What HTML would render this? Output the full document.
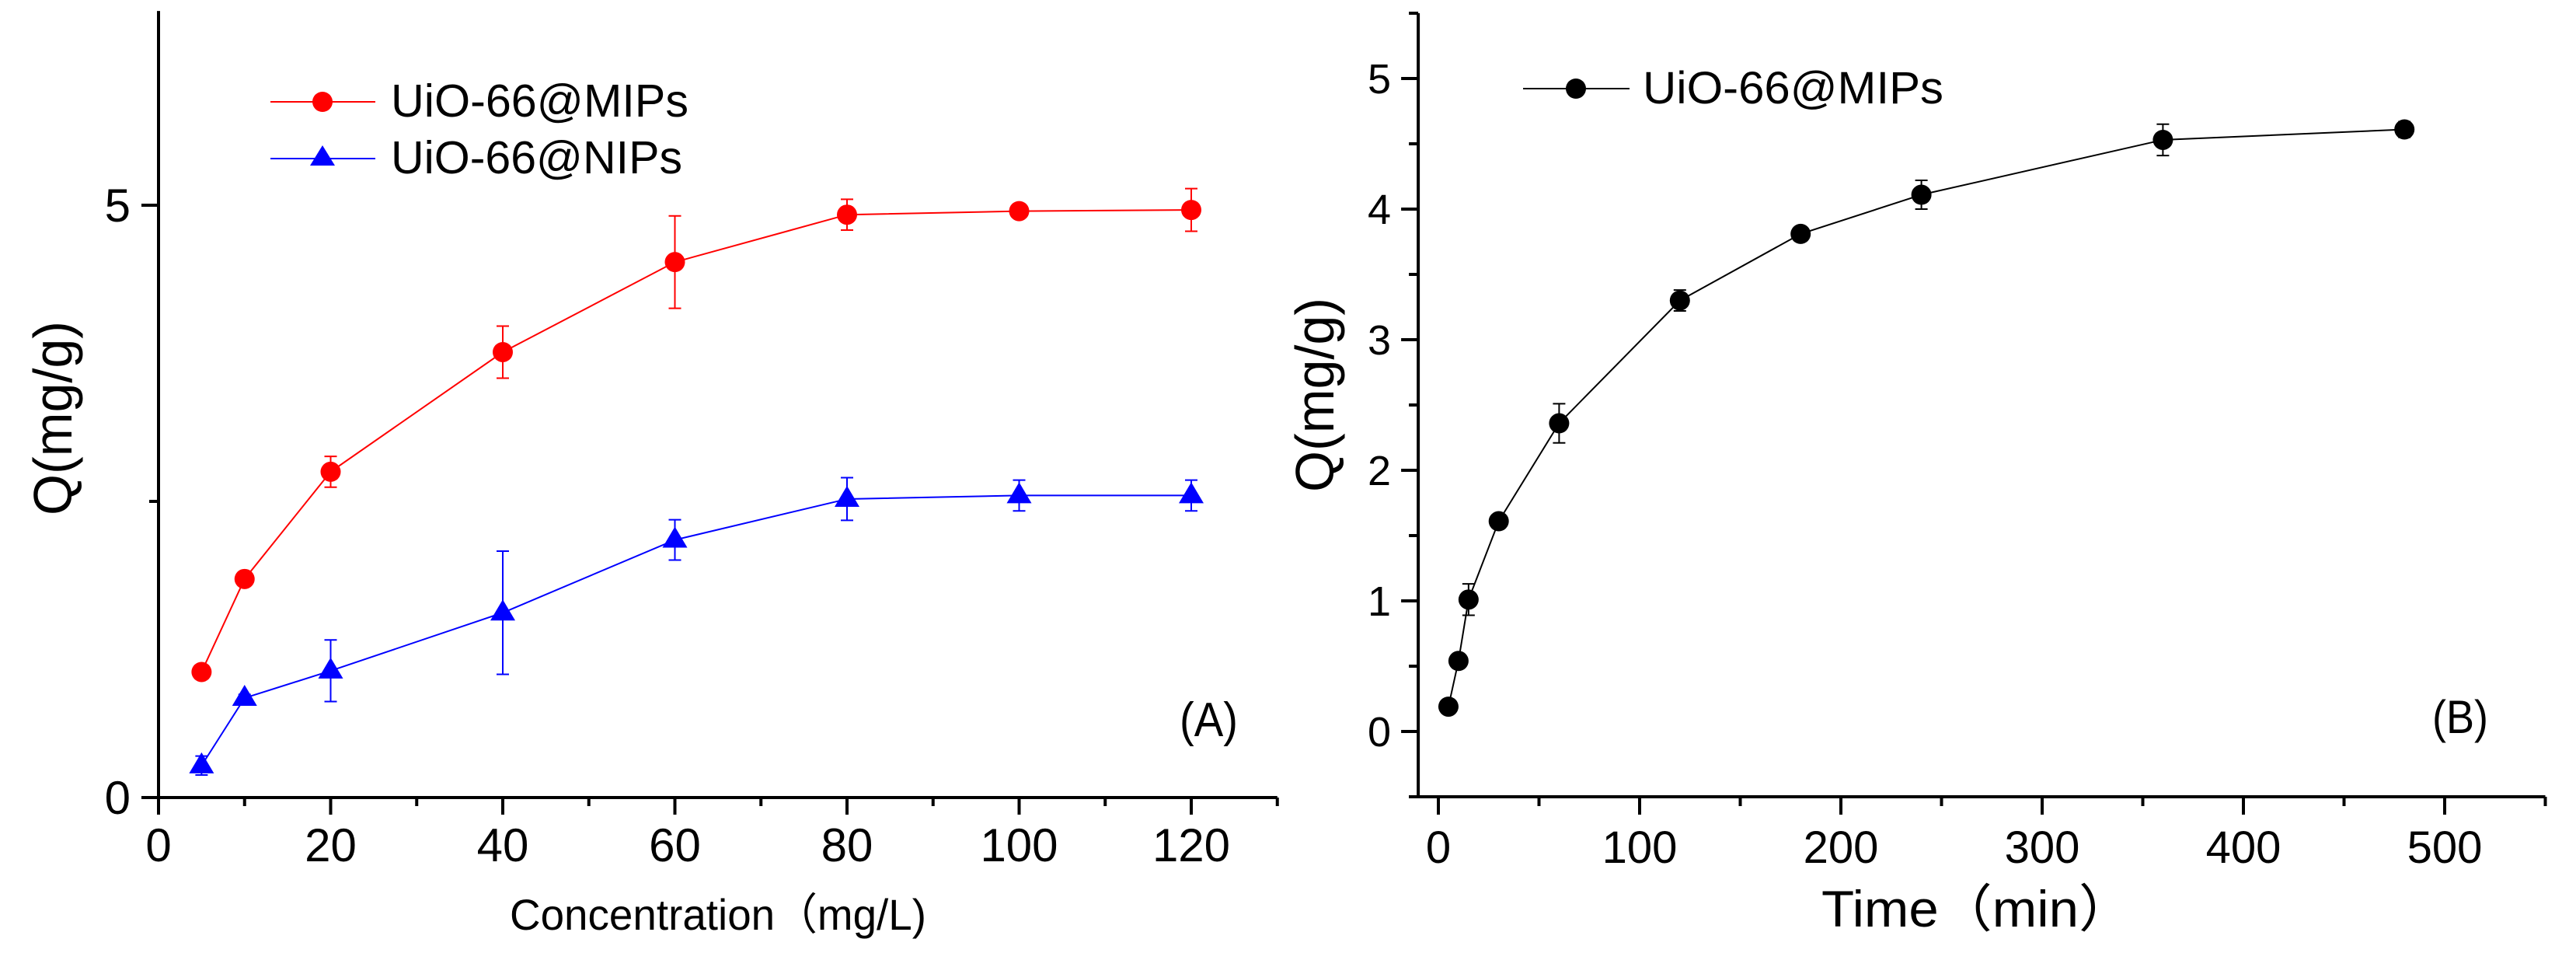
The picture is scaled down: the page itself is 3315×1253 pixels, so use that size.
<!DOCTYPE html>
<html><head><meta charset="utf-8"><style>
html,body{margin:0;padding:0;background:#fff;}
svg{display:block;font-family:"Liberation Sans","Noto Sans CJK SC",sans-serif;}
</style></head><body>
<svg id="fig" width="3315" height="1253" viewBox="0 0 3315 1253" xmlns="http://www.w3.org/2000/svg"></svg>
<script>
// Panel A data
const concX = [5, 10, 20, 40, 60, 80, 100, 120];
const mipQ = [1.06, 1.845, 2.75, 3.76, 4.52, 4.92, 4.95, 4.96];
const mipErr = [0.03, 0.03, 0.13, 0.22, 0.39, 0.13, 0.02, 0.18];
const nipQ = [0.27, 0.84, 1.07, 1.56, 2.175, 2.52, 2.55, 2.55];
const nipErr = [0.08, 0.03, 0.26, 0.52, 0.17, 0.18, 0.13, 0.13];
const aXTicks = [0, 20, 40, 60, 80, 100, 120];
const aYTicks = [0, 5];
// Panel B data
const timeX = [5, 10, 15, 30, 60, 120, 180, 240, 360, 480];
const timeQ = [0.19, 0.54, 1.01, 1.61, 2.36, 3.30, 3.81, 4.11, 4.53, 4.61];
const timeErr = [0.03, 0.03, 0.12, 0.03, 0.15, 0.08, 0.03, 0.11, 0.12, 0.06];
const bXTicks = [0, 100, 200, 300, 400, 500];
const bYTicks = [0, 1, 2, 3, 4, 5];

const NS = "http://www.w3.org/2000/svg";
const svg = document.getElementById('fig');
function mk(tag, attrs, parent) {
  const e = document.createElementNS(NS, tag);
  for (const k in attrs) e.setAttribute(k, attrs[k]);
  (parent || svg).appendChild(e);
  return e;
}
function txt(s, attrs, parent) { const t = mk('text', attrs, parent); t.textContent = s; return t; }

// ---------- Panel A ----------
const A = { x0: 204, xs: 221.5 / 20, y0: 1026, ys: 152.4, xmax: 130, ymax: 6.64 };
const ax = v => A.x0 + v * A.xs;
const ay = v => A.y0 - v * A.ys;
const gA = mk('g', {});


let l = mk('line', { x1: ax(0), y1: ay(A.ymax), x2: ax(0), y2: A.y0 + 22, stroke: '#000', 'stroke-width': 4 }, gA);
 
l = mk('line', { x1: 182, y1: A.y0, x2: ax(A.xmax), y2: A.y0, stroke: '#000', 'stroke-width': 4 }, gA);
 
for (let v = 0; v <= A.xmax; v += 10) {
  const major = v % 20 === 0;
  mk('line', { x1: ax(v), y1: A.y0, x2: ax(v), y2: A.y0 + (major ? 22 : 11), stroke: '#000', 'stroke-width': 4 }, gA);
}
aXTicks.forEach(v => {
  const t = txt(String(v), { x: ax(v), y: 1108, 'font-size': 60, 'text-anchor': 'middle' }, gA);
   
});
[0, 5].forEach(v => mk('line', { x1: ax(0) - 22, y1: ay(v), x2: ax(0), y2: ay(v), stroke: '#000', 'stroke-width': 4 }, gA));
mk('line', { x1: ax(0) - 12, y1: ay(2.5), x2: ax(0), y2: ay(2.5), stroke: '#000', 'stroke-width': 4 }, gA);
aYTicks.forEach(v => {
  const t = txt(String(v), { x: 168, y: ay(v) + 21, 'font-size': 60, 'text-anchor': 'end' }, gA);
   
});
let t = txt('Q(mg/g)', { x: 0, y: 0, 'font-size': 70, 'text-anchor': 'middle', textLength: 250, lengthAdjust: 'spacingAndGlyphs', transform: 'translate(92,538) rotate(-90)' }, gA);
 
t = txt('Concentration（mg/L)', { x: 656, y: 1196, 'font-size': 56, textLength: 536, lengthAdjust: 'spacingAndGlyphs' }, gA);
 
t = txt('(A)', { x: 1518, y: 947, 'font-size': 62, textLength: 75, lengthAdjust: 'spacingAndGlyphs' }, gA);
 

function series(xs, ys, es, fx, fy, color, shape, name) {
  const g = mk('g', {}, svg);
  
  
  mk('polyline', { points: xs.map((x, i) => fx(x) + ',' + fy(ys[i])).join(' '), fill: 'none', stroke: color, 'stroke-width': 2 }, g);
  xs.forEach((x, i) => {
    const px = fx(x), top = fy(ys[i] + es[i]), bot = fy(ys[i] - es[i]);
    const eb = mk('path', { d: `M${px},${top}V${bot}M${px - 8},${top}H${px + 8}M${px - 8},${bot}H${px + 8}`, stroke: color, 'stroke-width': 2, fill: 'none' }, g);
    
    
    let m;
    const py = fy(ys[i]);
    if (shape === 'circle') m = mk('circle', { cx: px, cy: py, r: 13, fill: color }, g);
    else m = mk('polygon', { points: `${px},${py - 17} ${px - 16},${py + 10} ${px + 16},${py + 10}`, fill: color }, g);
    
    
  });
}
series(concX, mipQ, mipErr, ax, ay, '#ff0000', 'circle', 'series-mips');
series(concX, nipQ, nipErr, ax, ay, '#0000ff', 'triangle', 'series-nips');

// legend A
const lgA = mk('g', {});


mk('line', { x1: 348, y1: 131, x2: 483, y2: 131, stroke: '#ff0000', 'stroke-width': 2 }, lgA);
mk('circle', { cx: 415, cy: 131, r: 13, fill: '#ff0000' }, lgA);
t = txt('UiO-66@MIPs', { x: 503, y: 150, 'font-size': 59, textLength: 383, lengthAdjust: 'spacingAndGlyphs' }, lgA);
 
mk('line', { x1: 348, y1: 204, x2: 483, y2: 204, stroke: '#0000ff', 'stroke-width': 2 }, lgA);
mk('polygon', { points: '415,187 399,213 431,213', fill: '#0000ff' }, lgA);
t = txt('UiO-66@NIPs', { x: 503, y: 223, 'font-size': 59, textLength: 375, lengthAdjust: 'spacingAndGlyphs' }, lgA);
 

// ---------- Panel B ----------
const B = { x0: 1851, xs: 2.59, y0: 941, ys: 168, xmin: -10, xmax: 550, ymin: -0.5, ymax: 5.5 };
const bx = v => B.x0 + v * B.xs;
const by = v => B.y0 - v * B.ys;
const gB = mk('g', {});


l = mk('line', { x1: bx(B.xmin), y1: by(B.ymax), x2: bx(B.xmin), y2: by(B.ymin), stroke: '#000', 'stroke-width': 4 }, gB);
 
l = mk('line', { x1: bx(B.xmin) - 12, y1: by(B.ymin), x2: bx(B.xmax), y2: by(B.ymin), stroke: '#000', 'stroke-width': 4 }, gB);
 
for (let v = 0; v <= 550; v += 50) {
  const major = v % 100 === 0;
  mk('line', { x1: bx(v), y1: by(B.ymin), x2: bx(v), y2: by(B.ymin) + (major ? 23 : 12), stroke: '#000', 'stroke-width': 4 }, gB);
}
bXTicks.forEach(v => {
  t = txt(String(v), { x: bx(v), y: 1110, 'font-size': 58, 'text-anchor': 'middle' }, gB);
   
});
for (let v = -0.5; v <= 5.5; v += 0.5) {
  const major = Math.abs(v - Math.round(v)) < 1e-6;
  mk('line', { x1: bx(B.xmin) - (major ? 22 : 12), y1: by(v), x2: bx(B.xmin), y2: by(v), stroke: '#000', 'stroke-width': 4 }, gB);
}
bYTicks.forEach(v => {
  t = txt(String(v), { x: 1790, y: by(v) + 19, 'font-size': 54, 'text-anchor': 'end' }, gB);
   
});
t = txt('Q(mg/g)', { x: 0, y: 0, 'font-size': 70, 'text-anchor': 'middle', textLength: 250, lengthAdjust: 'spacingAndGlyphs', transform: 'translate(1716,508) rotate(-90)' }, gB);
 
t = txt('Time（min）', { x: 2344, y: 1192, 'font-size': 66, textLength: 400, lengthAdjust: 'spacingAndGlyphs' }, gB);
 
t = txt('(B)', { x: 3130, y: 943, 'font-size': 60, textLength: 72, lengthAdjust: 'spacingAndGlyphs' }, gB);
 

series(timeX, timeQ, timeErr, bx, by, '#000000', 'circle', 'series-time');

const lgB = mk('g', {});


mk('line', { x1: 1960, y1: 114, x2: 2097, y2: 114, stroke: '#000', 'stroke-width': 2 }, lgB);
mk('circle', { cx: 2028, cy: 114, r: 13, fill: '#000' }, lgB);
t = txt('UiO-66@MIPs', { x: 2114, y: 133, 'font-size': 58, textLength: 387, lengthAdjust: 'spacingAndGlyphs' }, lgB);
 
</script>
</body></html>
